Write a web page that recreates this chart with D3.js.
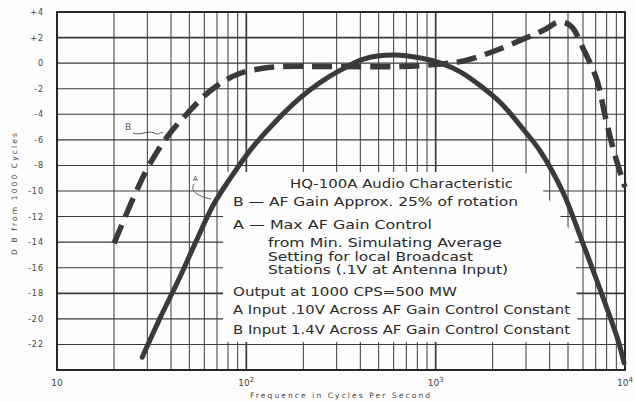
<!DOCTYPE html>
<html><head><meta charset="utf-8">
<script src="https://cdn.jsdelivr.net/npm/d3@7"></script>
<style>body{margin:0;background:#fdfdfd;} svg{display:block;}</style>
</head><body><svg id="c" width="635" height="402"></svg>
<script>
// ---- data ----
const freqA = [28.2, 35.1, 43.7, 54.4, 66.9, 82.3, 105, 142, 193, 246, 314, 416, 600, 833, 1063, 1356, 1730, 2208, 2922, 3594, 4698, 5851, 7025, 8128, 9183, 9883];
const dbA   = [-23.0, -19.9, -17.0, -13.9, -11.1, -9.0, -6.8, -4.6, -2.7, -1.5, -0.55, 0.32, 0.63, 0.40, 0.0, -0.70, -1.79, -3.12, -5.23, -6.95, -10.08, -13.68, -16.81, -19.39, -21.66, -23.45];
const freqB = [20, 25.4, 30.1, 38.0, 49.0, 65.3, 90.7, 142, 278, 653, 1063, 1389, 1979, 2994, 3819, 4475, 5180, 5995, 7110, 7838, 8641, 9641, 10000];
const dbB   = [-14.1, -10.5, -8.2, -5.8, -3.9, -2.1, -0.85, -0.3, -0.27, -0.27, -0.07, 0.16, 0.87, 1.96, 2.67, 3.22, 2.9, 1.18, -1.33, -4.07, -6.64, -9.0, -9.7];
const yTicks = [4, 2, 0, -2, -4, -6, -8, -10, -12, -14, -16, -18, -20, -22];
const yTickLabels = ["+4", "+2", "0", "-2", "-4", "-6", "-8", "-10", "-12", "-14", "-16", "-18", "-20", "-22"];
const xMajor = [10, 100, 1000, 10000];
const xMajorBase = ["10", "10", "10", "10"];
const xMajorExp = ["", "2", "3", "4"];
const xTitle = "Frequence in Cycles Per Second";
const yTitle = "D B from 1000 Cycles";
const noteLines = [
  "HQ-100A Audio Characteristic",
  "B \u2014 AF Gain Approx. 25% of rotation",
  "A \u2014 Max  AF Gain Control",
  "from Min. Simulating Average",
  "Setting for local Broadcast",
  "Stations (.1V at Antenna Input)",
  "Output at 1000 CPS=500 MW",
  "A Input .10V Across AF Gain Control Constant",
  "B Input 1.4V Across AF Gain Control Constant"
];

// ---- layout ----
const svg = d3.select("#c");
const L = 57, R = 625, T = 12, B = 370;
const x = d3.scaleLog().domain([10, 10000]).range([L, R]);
const y = d3.scaleLinear().domain([-24, 4]).range([B, T]);

svg.append("rect").attr("width", 635).attr("height", 402).attr("fill", "#fdfdfd");

// grid
const g = svg.append("g");
const vLines = x.ticks().filter(v => v > 10 && v < 10000);
g.selectAll("line.v").data(vLines).join("line")
  .attr("x1", d => x(d)).attr("x2", d => x(d)).attr("y1", T).attr("y2", B)
  .attr("stroke", "#3a3a3a")
  .attr("stroke-width", d => xMajor.includes(d) ? 1.7 : 1);
g.selectAll("line.h").data(yTicks.filter(v => v < 4)).join("line")
  .attr("x1", L).attr("x2", R).attr("y1", d => y(d)).attr("y2", d => y(d))
  .attr("stroke", "#3a3a3a")
  .attr("stroke-width", d => (d === 2 || d === -18) ? 1.8 : 1.1);

// white note area
svg.append("polygon")
  .attr("points", "223,172 525,172 541,188 575,238 578,342 223,342")
  .attr("fill", "#fdfdfd");

// frame
svg.append("rect").attr("x", L).attr("y", T).attr("width", R - L).attr("height", B - T)
  .attr("fill", "none").attr("stroke", "#111").attr("stroke-width", 1.8);

// y tick labels
svg.selectAll("text.yt").data(yTicks).join("text")
  .attr("x", 44).attr("y", d => y(d) + 3)
  .attr("text-anchor", "end").attr("font-family", "DejaVu Sans").attr("font-size", 8)
  .attr("fill", "#444").attr("letter-spacing", 1)
  .text((d, i) => yTickLabels[i]);

// x labels
const xl = svg.selectAll("text.xt").data(xMajor).join("text")
  .attr("x", d => x(d)).attr("y", 386)
  .attr("text-anchor", "middle").attr("font-family", "DejaVu Sans").attr("font-size", 9)
  .attr("fill", "#444");
xl.append("tspan").text((d, i) => xMajorBase[i]);
xl.append("tspan").attr("dy", -4).attr("font-size", 7).text((d, i) => xMajorExp[i]);

svg.append("text").attr("x", 340).attr("y", 398).attr("text-anchor", "middle")
  .attr("font-family", "DejaVu Sans").attr("font-size", 7.5).attr("fill", "#444")
  .attr("textLength", 180).attr("lengthAdjust", "spacing").text(xTitle);
svg.append("text").attr("transform", "translate(17,194) rotate(-90)").attr("text-anchor", "middle")
  .attr("font-family", "DejaVu Sans").attr("font-size", 7.5).attr("fill", "#444")
  .attr("textLength", 122).attr("lengthAdjust", "spacing").text(yTitle);

// curves
const line = d3.line().x(d => x(d[0])).y(d => y(d[1])).curve(d3.curveCatmullRom.alpha(0.5));
svg.append("path").attr("d", line(freqA.map((f, i) => [f, dbA[i]])))
  .attr("fill", "none").attr("stroke", "#3a3a3a").attr("stroke-width", 5).attr("stroke-linecap", "round");
svg.append("path").attr("d", line(freqB.map((f, i) => [f, dbB[i]])))
  .attr("fill", "none").attr("stroke", "#3a3a3a").attr("stroke-width", 5.5)
  .attr("stroke-dasharray", "20,9");

// curve labels with leader lines
svg.append("text").attr("x", 125).attr("y", 130).attr("font-family", "DejaVu Sans")
  .attr("font-size", 9).attr("fill", "#555").text("B");
svg.append("path").attr("d", "M133,133 C140,136 148,130 154,133 S160,131 163,133")
  .attr("fill", "none").attr("stroke", "#555").attr("stroke-width", 1);
svg.append("text").attr("x", 193).attr("y", 181).attr("font-family", "DejaVu Sans")
  .attr("font-size", 7).attr("fill", "#444").text("A");
svg.append("path").attr("d", "M194,184 C190,190 196,196 211,199")
  .attr("fill", "none").attr("stroke", "#555").attr("stroke-width", 1);

// notes
const notePos = [[290, 188, 223], [233, 206, 285], [233, 229, 199], [268, 247, 234], [268, 261, 205], [268, 274, 240], [233, 296, 224], [233, 314, 337], [233, 334, 337]];
svg.selectAll("text.note").data(noteLines).join("text")
  .attr("x", (d, i) => notePos[i][0]).attr("y", (d, i) => notePos[i][1])
  .attr("textLength", (d, i) => notePos[i][2]).attr("lengthAdjust", "spacingAndGlyphs")
  .attr("font-family", "DejaVu Sans").attr("font-size", 12).attr("fill", "#2a2a2a")
  .text(d => d);
</script>
</body></html>
